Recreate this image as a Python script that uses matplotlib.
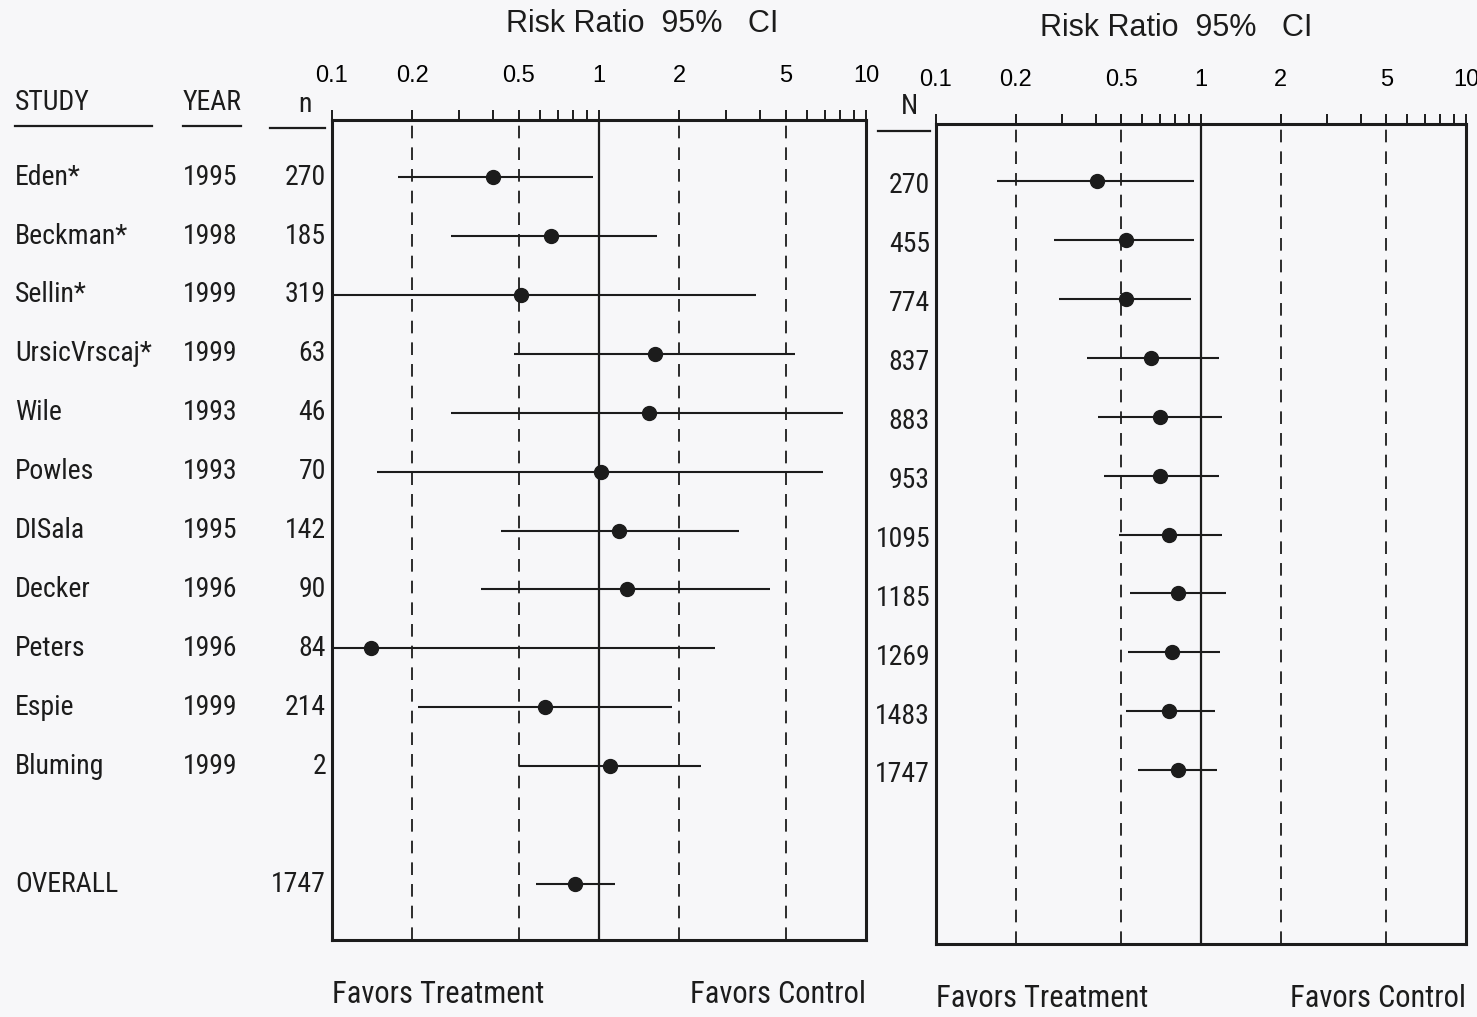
import matplotlib
matplotlib.use("Agg")
from matplotlib import pyplot as plt
from matplotlib import transforms as mtrans
from matplotlib.lines import Line2D
from matplotlib.ticker import LogLocator, NullFormatter

studies = ["Eden*", "Beckman*", "Sellin*", "UrsicVrscaj*", "Wile", "Powles",
           "DISala", "Decker", "Peters", "Espie", "Bluming"]
years = [1995, 1998, 1999, 1999, 1993, 1993, 1995, 1996, 1996, 1999, 1999]
n_study = [270, 185, 319, 63, 46, 70, 142, 90, 84, 214, 2]

# individual study risk ratios with 95% CI
rr = [0.40, 0.66, 0.51, 1.62, 1.54, 1.02, 1.19, 1.27, 0.14, 0.63, 1.10]
rr_lo = [0.177, 0.28, 0.10, 0.48, 0.28, 0.147, 0.43, 0.36, 0.10, 0.21, 0.50]
rr_hi = [0.95, 1.65, 3.87, 5.4, 8.2, 6.9, 3.34, 4.37, 2.72, 1.88, 2.41]

overall_n = 1747
overall_rr = 0.81
overall_lo = 0.58
overall_hi = 1.15

# cumulative analysis
n_cum = [270, 455, 774, 837, 883, 953, 1095, 1185, 1269, 1483, 1747]
cum_rr = [0.405, 0.52, 0.52, 0.65, 0.70, 0.70, 0.76, 0.82, 0.78, 0.76, 0.82]
cum_lo = [0.17, 0.28, 0.29, 0.37, 0.41, 0.43, 0.49, 0.54, 0.53, 0.52, 0.58]
cum_hi = [0.94, 0.94, 0.92, 1.17, 1.20, 1.17, 1.20, 1.24, 1.18, 1.13, 1.15]

tick_vals = [0.1, 0.2, 0.5, 1, 2, 5, 10]
tick_labels = ["0.1", "0.2", "0.5", "1", "2", "5", "10"]
dashed_at = [0.2, 0.5, 2, 5]

W, H = 1477, 1017
ink = "#1c1c1c"
narrow = ["Roboto Condensed", "Liberation Sans", "DejaVu Sans"]
plain = ["Liberation Sans", "DejaVu Sans"]

plt.rcParams["font.family"] = narrow
plt.rcParams["text.color"] = ink

fig = plt.figure(figsize=(W / 100, H / 100), dpi=100, facecolor="#f7f7f9")


def fx(x):
    return x / W


def fy(y):
    return 1 - y / H


def make_axes(x0, x1, y0, y1):
    ax = fig.add_axes([fx(x0), fy(y1), fx(x1 - x0), (y1 - y0) / H])
    ax.set_facecolor("#f7f7f9")
    ax.set_xscale("log")
    ax.set_xlim(0.1, 10)
    ax.set_ylim(13.95, 0.03)
    ax.xaxis.tick_top()
    ax.set_xticks(tick_vals)
    ax.set_xticklabels(tick_labels, family=plain)
    ax.xaxis.set_minor_locator(LogLocator(base=10, subs=range(2, 10)))
    ax.xaxis.set_minor_formatter(NullFormatter())
    ax.tick_params(axis="x", which="both", direction="out", length=7,
                   width=1.4, color=ink, pad=17, labelsize=17)
    ax.set_yticks([])
    for s in ax.spines.values():
        s.set_linewidth(2.2)
        s.set_color(ink)
    for v in dashed_at:
        ax.axvline(v, color=ink, lw=1.3, ls=(0, (7, 5)), zorder=1)
    ax.axvline(1, color=ink, lw=1.6, zorder=1)
    return ax


rows = list(range(1, len(studies) + 1))
overall_row = 13

# left panel: individual studies
ax1 = make_axes(332, 866, 120, 940)
ax1.hlines(rows, rr_lo, rr_hi, color=ink, lw=1.5, zorder=3)
ax1.plot(rr, rows, "o", color=ink, ms=10, zorder=4)
ax1.hlines(overall_row, overall_lo, overall_hi, color=ink, lw=1.5, zorder=3)
ax1.plot([overall_rr], [overall_row], "o", color=ink, ms=10, zorder=4)

# right panel: cumulative
ax2 = make_axes(936, 1466, 124, 944)
ax2.hlines(rows, cum_lo, cum_hi, color=ink, lw=1.5, zorder=3)
ax2.plot(cum_rr, rows, "o", color=ink, ms=10, zorder=4)

fs = 20
tr1 = mtrans.blended_transform_factory(fig.transFigure, ax1.transData)
tr2 = mtrans.blended_transform_factory(fig.transFigure, ax2.transData)
for r, name, yr, n in zip(rows, studies, years, n_study):
    fig.text(fx(15), r, name, transform=tr1, fontsize=fs, va="center", ha="left")
    fig.text(fx(183), r, str(yr), transform=tr1, fontsize=fs, va="center", ha="left")
    fig.text(fx(326), r, str(n), transform=tr1, fontsize=fs, va="center", ha="right")
fig.text(fx(15), overall_row, "OVERALL", transform=tr1, fontsize=fs, va="center", ha="left")
fig.text(fx(326), overall_row, str(overall_n), transform=tr1, fontsize=fs, va="center", ha="right")
for r, n in zip(rows, n_cum):
    fig.text(fx(930), r + 0.08, str(n), transform=tr2, fontsize=fs, va="center", ha="right")

# column headers with underlines
fig.text(fx(15), fy(102), "STUDY", fontsize=fs, va="center", ha="left")
fig.text(fx(183), fy(102), "YEAR", fontsize=fs, va="center", ha="left")
fig.text(fx(312), fy(104), "n", fontsize=fs, va="center", ha="right")
fig.text(fx(918), fy(107), "N", fontsize=fs, va="center", ha="right")
for x0, x1, y in [(15, 152, 126), (183, 241, 126), (270, 325, 128), (878, 930, 131)]:
    fig.add_artist(Line2D([fx(x0), fx(x1)], [fy(y), fy(y)], color=ink, lw=1.6))

# titles
fig.text(fx(642), fy(24), "Risk Ratio  95%   CI", fontsize=22, family=plain,
         ha="center", va="center")
fig.text(fx(1176), fy(28), "Risk Ratio  95%   CI", fontsize=22, family=plain,
         ha="center", va="center")

# direction labels
for ax in (ax1, ax2):
    ax.text(0, -0.066, "Favors Treatment", transform=ax.transAxes,
            fontsize=22, ha="left", va="center")
    ax.text(1, -0.066, "Favors Control", transform=ax.transAxes,
            fontsize=22, ha="right", va="center")

fig.savefig("out.png", dpi=100, facecolor=fig.get_facecolor())
